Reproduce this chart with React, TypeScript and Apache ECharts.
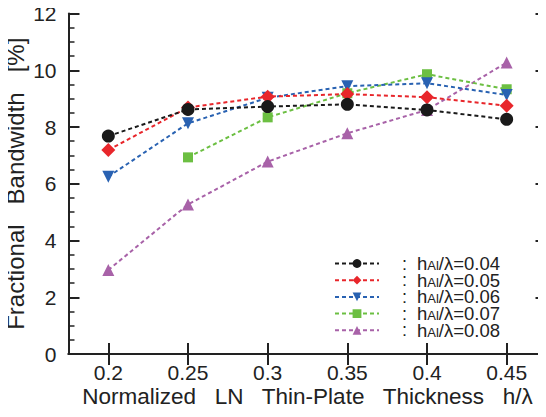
import React, { useEffect, useRef } from "react";
import * as echarts from "echarts";

const xTicks = [0.2, 0.25, 0.3, 0.35, 0.4, 0.45];
const yTicks = [0, 2, 4, 6, 8, 10, 12];
const seriesNames = ["0.04", "0.05", "0.06", "0.07", "0.08"];
const s004 = [7.68, 8.62, 8.72, 8.8, 8.6, 8.27];
const s005 = [7.19, 8.69, 9.07, 9.16, 9.05, 8.75];
const s006 = [6.25, 8.13, 9.03, 9.44, 9.54, 9.13];
const s007 = [null, 6.93, 8.34, 9.19, 9.86, 9.33];
const s008 = [2.96, 5.27, 6.78, 7.78, 8.6, 10.27];

const colors = ["#1a1a1a", "#e8262b", "#2962b2", "#6cbf42", "#a862a8"];
const symbols = ["circle", "diamond", "triangle", "rect", "triangle"];
const symbolSizes = [13, 14, 12, 10, 12];
const symbolRotates = [0, 0, 180, 0, 0];

const FONT = "'Liberation Sans', Arial, sans-serif";

export default function App() {
  const ref = useRef<HTMLDivElement>(null);
  useEffect(() => {
    if (!ref.current) return;
    const chart = echarts.init(ref.current, null, { renderer: "svg" });
    const all = [s004, s005, s006, s007, s008];
    const series = all.map((vals, i) => ({
      name: seriesNames[i],
      type: "line",
      data: vals.map((v, j) => [xTicks[j], v]),
      connectNulls: false,
      symbol: symbols[i],
      symbolSize: symbolSizes[i],
      symbolRotate: symbolRotates[i],
      lineStyle: { color: colors[i], width: 2, type: [4, 3] },
      itemStyle: { color: colors[i] },
      z: 10 - i,
    }));
    const axisLine = { show: true, lineStyle: { color: "#222", width: 2 } };
    chart.setOption({
      animation: false,
      backgroundColor: "#fff",
      textStyle: { fontFamily: FONT },
      grid: {
        left: 68.5,
        top: 13.5,
        width: 478,
        height: 340.5,
        containLabel: false,
        outerBoundsMode: "none",
      },
      xAxis: [
        {
          type: "value",
          min: 0.175,
          max: 0.475,
          interval: 0.025,
          axisLine,
          axisTick: { inside: true, length: 11, lineStyle: { color: "#222", width: 2 }, customValues: xTicks },
          axisLabel: {
            customValues: xTicks,
            margin: 8,
            color: "#222",
            fontSize: 21,
            fontFamily: FONT,
            formatter: (v: number) => String(Math.round(v * 100) / 100),
          },
          splitLine: { show: false },
          name: "Normalized   LN   Thin-Plate   Thickness   h/λ",
          nameLocation: "middle",
          nameGap: 31,
          nameMoveOverlap: false,
          nameTextStyle: { fontSize: 22.5, color: "#222", fontFamily: FONT },
        },
        {
          type: "value",
          position: "top",
          min: 0.175,
          max: 0.475,
          interval: 0.025,
          axisLine,
          axisTick: { inside: true, length: 11, lineStyle: { color: "#222", width: 2 }, customValues: xTicks },
          axisLabel: { show: false },
          splitLine: { show: false },
        },
      ],
      yAxis: [
        {
          type: "value",
          min: 0,
          max: 12,
          interval: 2,
          axisLine,
          axisTick: { inside: true, length: 11, lineStyle: { color: "#222", width: 2 } },
          minorTick: { show: true, splitNumber: 4, length: 6, lineStyle: { color: "#222", width: 1.5 } },
          axisLabel: {
            margin: 12,
            color: "#222",
            fontSize: 21,
            fontFamily: FONT,
            customValues: yTicks,
          },
          splitLine: { show: false },
          name: "Fractional   Bandwidth   [%]",
          nameLocation: "middle",
          nameGap: 41,
          nameMoveOverlap: false,
          nameTextStyle: { fontSize: 24, color: "#222", fontFamily: FONT },
        },
        {
          type: "value",
          position: "right",
          min: 0,
          max: 12,
          interval: 2,
          axisLine,
          axisTick: { inside: true, length: 11, lineStyle: { color: "#222", width: 2 } },
          minorTick: { show: true, splitNumber: 4, length: 6, lineStyle: { color: "#222", width: 1.5 } },
          axisLabel: { show: false },
          splitLine: { show: false },
        },
      ],
      legend: {
        orient: "vertical",
        left: 334,
        top: 254,
        itemWidth: 44,
        itemHeight: 11,
        itemGap: -2.3,
        padding: 0,
        data: seriesNames.map((n) => ({ name: n })),
        formatter: (n: string) => `{c|:}{h|h}{s|Al}{h|/λ=${n}}`,
        textStyle: {
          color: "#222",
          fontFamily: FONT,
          lineHeight: 16.7,
          rich: {
            c: { fontSize: 18, fontFamily: FONT, color: "#222", padding: [0, 10, 0, 18], lineHeight: 16.7 },
            h: { fontSize: 18.5, fontFamily: FONT, color: "#222", lineHeight: 16.7 },
            s: { fontSize: 13, fontFamily: FONT, color: "#222", lineHeight: 10, verticalAlign: "bottom" },
          },
        },
      },
      series,
    });
    return () => chart.dispose();
  }, []);
  return <div ref={ref} style={{ width: 546, height: 417, margin: -8 }} />;
}
